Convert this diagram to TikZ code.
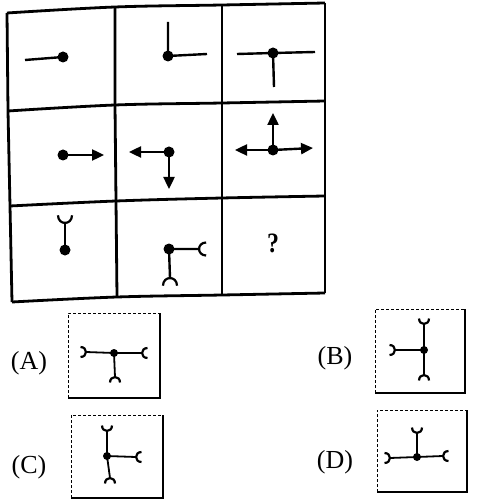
\documentclass[tikz,border=0pt]{standalone}
\usepackage{fontspec}
\setmainfont{Liberation Serif}
\usetikzlibrary{arrows.meta}
\newcommand\cupat[3]{\draw[cupline,shift={(#1)},rotate=#2] ({1.1*#3},{-#3}) .. controls ({-0.35*#3},{-#3}) and ({-0.35*#3},{#3}) .. ({1.1*#3},{#3});}
\tikzset{
  gridline/.style={line width=2.8pt},
  cellline/.style={line width=2.4pt},
  dot/.style={circle,fill=black,inner sep=0pt,minimum size=11pt},
  sdot/.style={circle,fill=black,inner sep=0pt,minimum size=8pt},
  arr/.style={line width=2.4pt,-{Triangle[length=12pt,width=11pt]}},
  cupline/.style={line width=2.2pt},
  optline/.style={line width=1.8pt},
  boxsolid/.style={line width=1.4pt},
  boxdash/.style={line width=1.0pt,dash pattern=on 3pt off 2pt},
  lab/.style={font=\fontsize{26}{30}\selectfont,inner sep=0pt},
}
\begin{document}
\begin{tikzpicture}[x=1pt,y=-1pt]
\useasboundingbox (0,0) rectangle (478,502);
% grid
\draw[gridline] plot[smooth,tension=0.6] coordinates {(7,13) (115,7) (222,5) (325,3)};
\draw[gridline] plot[smooth,tension=0.6] coordinates {(8,111) (115,105) (222,103) (325,101)};
\draw[gridline] plot[smooth,tension=0.6] coordinates {(10,206) (116,201) (222,198) (325,196)};
\draw[gridline] plot[smooth,tension=0.6] coordinates {(12,302) (117,297) (222,295) (325,293)};
\draw[gridline] (7,13) -- (8,111) -- (10,206) -- (12,302);
\draw[gridline] (115,7) -- (115,105) -- (116,201) -- (117,297);
\draw[gridline] (222,5) -- (222,103) -- (222,198) -- (222,295);
\draw[gridline] (325,3) -- (325,293);
% row 1
\node[dot] (d11) at (63,57) {};
\coordinate (e11) at (25,60);
\draw[cellline] (d11.center) -- (e11);
\node[dot] (d12) at (168,56) {};
\coordinate (e12u) at (168,22);
\coordinate (e12r) at (207,54);
\draw[cellline] (e12u) -- (d12.center) -- (e12r);
\node[dot] (d13) at (273,53) {};
\coordinate (e13l) at (237,54);
\coordinate (e13r) at (315,52);
\coordinate (e13d) at (274,87);
\draw[cellline] (e13l) -- (d13.center) -- (e13r);
\draw[cellline] (d13.center) -- (e13d);
% row 2
\node[dot] (d21) at (63,155) {};
\coordinate (t21) at (104,155);
\draw[arr] (d21.center) -- (t21);
\node[dot] (d22) at (169,152) {};
\coordinate (t22l) at (129,152);
\coordinate (t22d) at (169,189);
\draw[arr] (d22.center) -- (t22l);
\draw[arr] (d22.center) -- (t22d);
\node[dot] (d23) at (273,150) {};
\coordinate (t23l) at (235,150);
\coordinate (t23r) at (313,148);
\coordinate (t23u) at (273,113);
\draw[arr] (d23.center) -- (t23l);
\draw[arr] (d23.center) -- (t23r);
\draw[arr] (d23.center) -- (t23u);
% row 3
\node[dot] (d31) at (65,250) {};
\coordinate (c31u) at (65,223);
\draw[cellline] (d31.center) -- (c31u);
\cupat{c31u}{90}{7}
\node[dot] (d32) at (169,249) {};
\coordinate (c32r) at (199,249);
\coordinate (c32d) at (170,278);
\draw[cellline] (c32r) -- (d32.center) -- (c32d);
\cupat{c32r}{0}{6.5}
\cupat{c32d}{270}{7}
\node[font=\fontsize{28}{32}\selectfont\bfseries,inner sep=0pt] (q) at (273,243) {\scalebox{0.85}[1]{?}};
% option A
\node[lab] (la) at (29,363) {(A)};
\draw[boxdash] (68,398) -- (68,313) -- (160,313);
\draw[boxsolid] (160,313) -- (160,398) -- (68,398);
\node[sdot] (da) at (114,353) {};
\coordinate (ca1) at (86,352);
\coordinate (ca2) at (142,353);
\coordinate (ca3) at (115,377);
\draw[optline] (ca1) -- (da.center) -- (ca2);
\draw[optline] (da.center) -- (ca3);
\cupat{ca1}{180}{5}
\cupat{ca2}{0}{5}
\cupat{ca3}{270}{5}
% option B
\node[lab] (lb) at (335,358) {(B)};
\draw[boxdash] (375,393) -- (375,309) -- (465,309);
\draw[boxsolid] (465,309) -- (465,393) -- (375,393);
\node[sdot] (db) at (424,350) {};
\coordinate (cb1) at (424,324);
\coordinate (cb2) at (424,375);
\coordinate (cb3) at (395,350);
\draw[optline] (cb1) -- (db.center) -- (cb2);
\draw[optline] (db.center) -- (cb3);
\cupat{cb1}{90}{5}
\cupat{cb2}{270}{5}
\cupat{cb3}{180}{5}
% option C
\node[lab] (lc) at (29,467) {(C)};
\draw[boxdash] (71,498) -- (71,415) -- (163,415);
\draw[boxsolid] (163,415) -- (163,498) -- (71,498);
\node[sdot] (dc) at (107,456) {};
\coordinate (cc1) at (107,431);
\coordinate (cc2) at (110,478);
\coordinate (cc3) at (136,457);
\draw[optline] (cc1) -- (dc.center) -- (cc2);
\draw[optline] (dc.center) -- (cc3);
\cupat{cc1}{90}{5}
\cupat{cc2}{270}{5}
\cupat{cc3}{0}{5}
% option D
\node[lab] (ld) at (335,462) {(D)};
\draw[boxdash] (377,492) -- (377,410) -- (467,410);
\draw[boxsolid] (467,410) -- (467,492) -- (377,492);
\node[sdot] (dd) at (417,457) {};
\coordinate (cd1) at (417,433);
\coordinate (cd2) at (390,458);
\coordinate (cd3) at (443,456);
\draw[optline] (cd2) -- (dd.center) -- (cd3);
\draw[optline] (dd.center) -- (cd1);
\cupat{cd1}{90}{5}
\cupat{cd2}{180}{5}
\cupat{cd3}{0}{5}
\end{tikzpicture}
\end{document}
